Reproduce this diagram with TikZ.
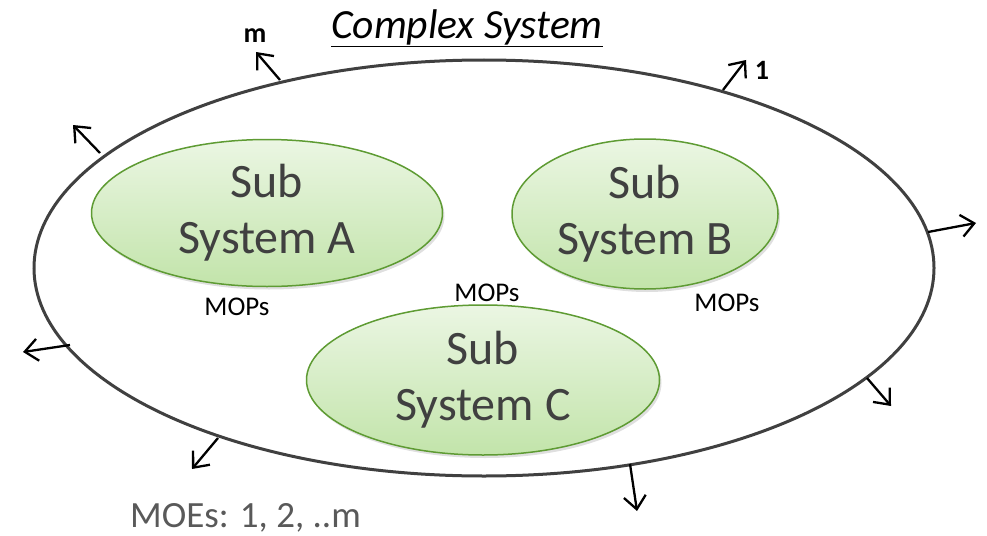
\documentclass[tikz,border=0pt]{standalone}
\usepackage{fontspec}
\setmainfont{Carlito}
\usetikzlibrary{shapes.geometric,arrows.meta,shadows}
\definecolor{subborder}{HTML}{5E9B33}
\definecolor{subtop}{HTML}{EBF6E3}
\definecolor{subbot}{HTML}{C2E4AA}
\definecolor{txtgray}{HTML}{404040}
\definecolor{moegray}{HTML}{595959}
\definecolor{outergray}{HTML}{404040}
\tikzset{
  outer/.style={ellipse, draw=outergray, line width=3pt, minimum width=900pt, minimum height=416pt, inner sep=0pt},
  subsys/.style={ellipse, draw=subborder, line width=1.5pt, top color=subtop, bottom color=subbot,
    drop shadow={opacity=0.25, shadow xshift=2pt, shadow yshift=-3pt},
    inner sep=0pt, align=center, text=txtgray, font=\fontsize{48}{56}\selectfont},
  outarrow/.style={draw=black, line width=2.3pt, -{Straight Barb[length=13pt,width=22pt,line width=2.3pt]}},
  mop/.style={font=\fontsize{27}{30}\selectfont, text=black, inner sep=0pt},
  num/.style={font=\bfseries\fontsize{28}{30}\selectfont, text=black, inner sep=0pt}
}
\begin{document}
\begin{tikzpicture}[x=1pt,y=-1pt]
\path[use as bounding box] (0,0) rectangle (987,535);
\node[outer] (sys) at (484,268) {};
\node[subsys, minimum width=351pt, minimum height=147pt] (A) at (267,213) {Sub\\System A};
\node[subsys, minimum width=266pt, minimum height=150pt] (B) at (645,214) {Sub\\System B};
\node[subsys, minimum width=353pt, minimum height=150pt] (C) at (483,380) {Sub\\System C};
% title
\node[font=\itshape\fontsize{41.5}{44}\selectfont, anchor=base, inner sep=0pt] (title) at (467,38) {\underline{Complex System}};
% MOPs
\node[mop, anchor=base] (mopA) at (237,315) {MOPs};
\node[mop, anchor=base] (mopC) at (487,301) {MOPs};
\node[mop, anchor=base] (mopB) at (727,311) {MOPs};
\node[font=\fontsize{37}{40}\selectfont, text=moegray, anchor=base west, inner sep=0pt] (moe) at (130,527) {MOEs: 1, 2, ..m};
% arrow coordinates
\coordinate (m0) at (280,80);   \coordinate (m1) at (256,52);
\coordinate (o0) at (723,90);   \coordinate (o1) at (746,60);
\coordinate (tl0) at (100,153); \coordinate (tl1) at (73,125);
\coordinate (r0) at (928,232);  \coordinate (r1) at (976,223);
\coordinate (l0) at (70,345);   \coordinate (l1) at (23,352);
\coordinate (rl0) at (867,378); \coordinate (rl1) at (891,406);
\coordinate (bl0) at (218,438); \coordinate (bl1) at (192,469);
\coordinate (b0) at (630,464);  \coordinate (b1) at (637,511);
\foreach \s in {m,o,tl,r,l,rl,bl,b} {\draw[outarrow] (\s0) -- (\s1);}
\node[num, anchor=base] (lm) at (255,43) {m};
\node[num, anchor=base] (l1lab) at (762,79) {1};
\end{tikzpicture}
\end{document}
